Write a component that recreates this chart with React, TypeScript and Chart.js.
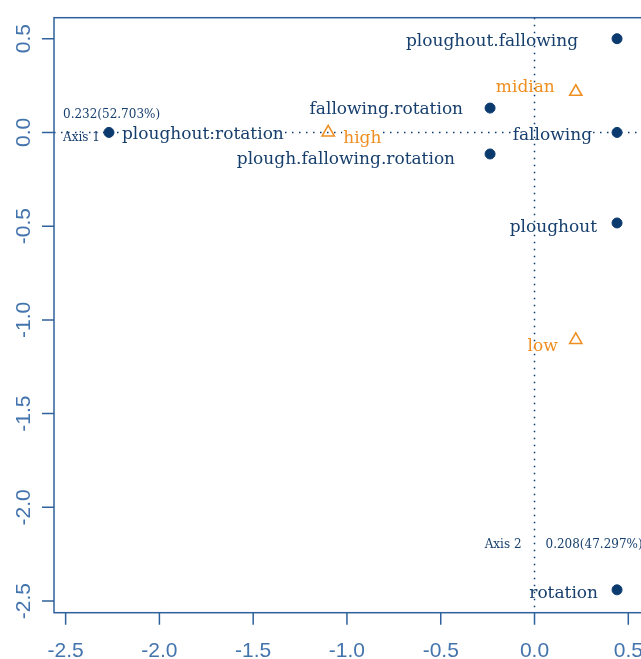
import React, { useEffect, useRef } from 'react';
import { Chart, registerables } from 'chart.js';

Chart.register(...registerables);

// ---- data ----
const blueNames = [
  'ploughout.fallowing',
  'fallowing.rotation',
  'fallowing',
  'plough.fallowing.rotation',
  'ploughout:rotation',
  'ploughout',
  'rotation',
];
const blueX = [0.44, -0.237, 0.44, -0.237, -2.269, 0.44, 0.44];
const blueY = [0.5, 0.13, 0.0, -0.115, 0.0, -0.483, -2.44];

const orangeNames = ['midian', 'high', 'low'];
const orangeX = [0.22, -1.1, 0.22];
const orangeY = [0.217, 0.0, -1.107];

const xTicks = [-2.5, -2.0, -1.5, -1.0, -0.5, 0.0, 0.5];
const yTicks = [-2.5, -2.0, -1.5, -1.0, -0.5, 0.0, 0.5];
const axisMin = -2.562;
const axisMax = 0.612;

const axis1Name = 'Axis 1';
const axis1Eig = '0.232(52.703%)';
const axis2Name = 'Axis 2';
const axis2Eig = '0.208(47.297%)';

// ---- styles (label placement relative to marker, in px) ----
const blueLabelStyle: [number, number, CanvasTextAlign][] = [
  [-39, 3, 'right'],
  [-27, 2, 'right'],
  [-25, 3, 'right'],
  [-35, 6, 'right'],
  [13, 2, 'left'],
  [-20, 5, 'right'],
  [-19, 4, 'right'],
];
const orangeLabelStyle: [number, number, CanvasTextAlign][] = [
  [-21, -4, 'right'],
  [15, 6, 'left'],
  [-18, 7, 'right'],
];

const NAVY = '#0b3a6e';
const TEXT_NAVY = '#173f6d';
const ORANGE = '#ef8f22';
const FRAME = '#2f619c';
const TICK_TEXT = '#4474ad';
const LABEL_FONT = '17px "DejaVu Serif", serif';
const SMALL_FONT = '12px "DejaVu Serif", serif';
const TICK_FONT = '21px "Liberation Sans", Arial, sans-serif';

function eachLabel(chart: any, fn: (text: string, x: number, y: number, align: CanvasTextAlign, color: string) => void) {
  const m0 = chart.getDatasetMeta(0);
  m0.data.forEach((el: any, i: number) => {
    const [dx, dy, al] = blueLabelStyle[i];
    fn(blueNames[i], el.x + dx, el.y + dy, al, TEXT_NAVY);
  });
  const m1 = chart.getDatasetMeta(1);
  m1.data.forEach((el: any, i: number) => {
    const [dx, dy, al] = orangeLabelStyle[i];
    fn(orangeNames[i], el.x + dx, el.y + dy, al, ORANGE);
  });
}

const decorPlugin = {
  id: 'decor',
  beforeDatasetsDraw(chart: any) {
    const { ctx, chartArea, scales } = chart;
    const x0 = scales.x.getPixelForValue(0);
    const y0 = scales.y.getPixelForValue(0);
    ctx.save();
    ctx.strokeStyle = NAVY;
    ctx.lineWidth = 1.5;
    ctx.setLineDash([1.5, 5.5]);
    ctx.beginPath();
    ctx.moveTo(chartArea.left, y0);
    ctx.lineTo(chartArea.right, y0);
    ctx.stroke();
    // white boxes behind labels
    ctx.setLineDash([]);
    ctx.font = LABEL_FONT;
    ctx.textBaseline = 'middle';
    ctx.fillStyle = '#ffffff';
    eachLabel(chart, (text, x, y, al) => {
      ctx.textAlign = al;
      const m = ctx.measureText(text);
      const w = m.width;
      const left = al === 'right' ? x - w : x;
      ctx.fillRect(left - 1, y - 7, w + 2, 14);
    });
    ctx.strokeStyle = NAVY;
    ctx.setLineDash([1.5, 5.5]);
    ctx.beginPath();
    ctx.moveTo(x0, chartArea.top);
    ctx.lineTo(x0, chartArea.bottom);
    ctx.stroke();
    ctx.restore();
  },
  afterDatasetsDraw(chart: any) {
    const { ctx, chartArea, scales } = chart;
    const xs = scales.x;
    const ys = scales.y;
    ctx.save();
    // frame
    ctx.strokeStyle = FRAME;
    ctx.lineWidth = 1.5;
    ctx.setLineDash([]);
    ctx.strokeRect(chartArea.left, chartArea.top, chartArea.right - chartArea.left, chartArea.bottom - chartArea.top);
    // ticks
    ctx.beginPath();
    xTicks.forEach((v) => {
      const px = xs.getPixelForValue(v);
      ctx.moveTo(px, chartArea.bottom);
      ctx.lineTo(px, chartArea.bottom + 12);
    });
    yTicks.forEach((v) => {
      const py = ys.getPixelForValue(v);
      ctx.moveTo(chartArea.left, py);
      ctx.lineTo(chartArea.left - 12, py);
    });
    ctx.stroke();
    // tick labels
    ctx.fillStyle = TICK_TEXT;
    ctx.font = TICK_FONT;
    ctx.textAlign = 'center';
    ctx.textBaseline = 'alphabetic';
    xTicks.forEach((v) => {
      const px = xs.getPixelForValue(v);
      ctx.fillText(v.toFixed(1), px, chartArea.bottom + 44);
    });
    yTicks.forEach((v) => {
      const py = ys.getPixelForValue(v);
      ctx.save();
      ctx.translate(chartArea.left - 24, py);
      ctx.rotate(-Math.PI / 2);
      ctx.fillText(v.toFixed(1), 0, 0);
      ctx.restore();
    });

    // point labels
    ctx.font = LABEL_FONT;
    ctx.textBaseline = 'middle';
    eachLabel(chart, (text, x, y, al, color) => {
      ctx.textAlign = al;
      ctx.fillStyle = color;
      ctx.fillText(text, x, y);
    });

    // axis annotations
    const x0 = xs.getPixelForValue(0);
    const y0 = ys.getPixelForValue(0);
    ctx.font = SMALL_FONT;
    ctx.fillStyle = TEXT_NAVY;
    ctx.textAlign = 'left';
    ctx.fillText(axis1Eig, chartArea.left + 9, y0 - 18);
    ctx.fillText(axis1Name, chartArea.left + 9, y0 + 5);
    ctx.textAlign = 'right';
    ctx.fillText(axis2Name, x0 - 13, chartArea.bottom - 68);
    ctx.textAlign = 'left';
    ctx.fillText(axis2Eig, x0 + 11, chartArea.bottom - 68);
    ctx.restore();
  },
};

export default function App() {
  const ref = useRef<HTMLCanvasElement | null>(null);
  useEffect(() => {
    if (!ref.current) return;
    const chart = new Chart(ref.current, {
      type: 'scatter',
      data: {
        datasets: [
          {
            label: 'variables',
            data: blueX.map((x, i) => ({ x, y: blueY[i] })),
            pointStyle: 'circle',
            pointRadius: 5,
            pointBackgroundColor: NAVY,
            pointBorderColor: NAVY,
            pointBorderWidth: 1,
          },
          {
            label: 'levels',
            data: orangeX.map((x, i) => ({ x, y: orangeY[i] })),
            pointStyle: 'triangle',
            pointRadius: 7,
            pointBackgroundColor: 'rgba(0,0,0,0)',
            pointBorderColor: ORANGE,
            pointBorderWidth: 1.6,
          },
        ],
      },
      options: {
        responsive: false,
        animation: false,
        devicePixelRatio: 1,
        layout: { padding: { left: 54, top: 17.7, right: 700 - 649.3, bottom: 659 - 612.7 } },
        plugins: { legend: { display: false }, tooltip: { enabled: false } },
        scales: {
          x: { type: 'linear', min: axisMin, max: axisMax, display: false },
          y: { type: 'linear', min: axisMin, max: axisMax, display: false },
        },
      },
      plugins: [decorPlugin],
    });
    return () => chart.destroy();
  }, []);
  return (
    <div style={{ position: 'fixed', left: 0, top: 0, width: 641, height: 659, overflow: 'hidden', background: '#fff' }}>
      <canvas ref={ref} width={700} height={659} style={{ width: 700, height: 659, display: 'block' }} />
    </div>
  );
}
